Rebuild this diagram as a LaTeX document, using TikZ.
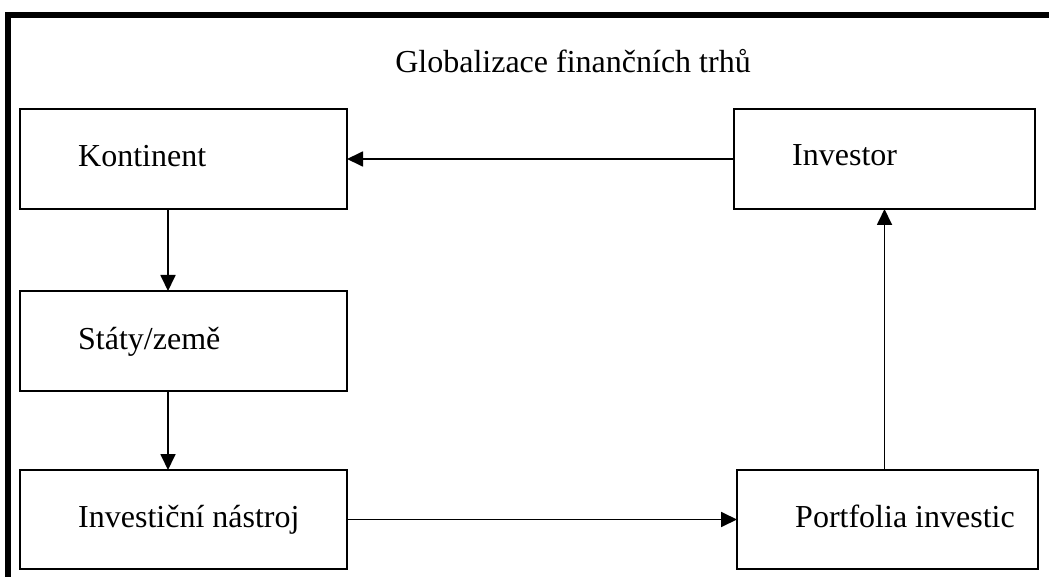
\documentclass[tikz,border=0pt]{standalone}
\usepackage{fontspec}
\setmainfont{Liberation Serif}
\usetikzlibrary{positioning,arrows.meta}

\begin{document}
\begin{tikzpicture}[
  x=1pt, y=-1pt,
  font=\fontsize{32}{38}\selectfont,
  >={Triangle[length=16pt,width=15pt]},
  node distance=80pt,
  box/.style={draw=black, line width=1.8pt, minimum width=#1,
              minimum height=100pt, inner sep=0pt, outer sep=0pt},
  box/.default=327pt,
  txt/.style={anchor=base west, inner sep=0pt},
  arr/.style={->, line width=1.8pt, black},
]
\useasboundingbox (0,0) rectangle (1049,577);

% --- frame (thick top and left edges) ---
\draw[line width=6pt, line join=miter] (8,577) -- (8,15) -- (1049,15);

% --- title ---
\node[anchor=base, inner sep=0pt] (title) at (573,73) {Globalizace finančních trhů};

% --- left column ---
\node[box, anchor=north west] (kont) at (20,109) {};
\node[box, below=82pt of kont] (staty) {};
\node[box, below=79pt of staty, minimum height=99pt] (nastroj) {};

% --- right column ---
\node[box=301pt, anchor=north west] (investor) at (734,109) {};
\node[box=301pt, anchor=north west, minimum height=99pt] (portf) at (737,470) {};

% --- texts ---
\node[txt] (kontT)     at ([shift={(58,8)}]kont.west)     {Kontinent};
\node[txt] (statyT)    at ([shift={(58,8)}]staty.west)    {Státy/země};
\node[txt] (nastrojT)  at ([shift={(58,8)}]nastroj.west)  {Investiční nástroj};
\node[txt] (investorT) at ([shift={(58,7)}]investor.west) {Investor};
\node[txt] (portfT)    at ([shift={(58,8)}]portf.west)    {Portfolia investic};

% --- arrows ---
\draw[arr] (investor.west) -- (kont.east);
\draw[arr] ([xshift=-15.5pt]kont.south) -- ([xshift=-15.5pt]staty.north);
\draw[arr] ([xshift=-15.5pt]staty.south) -- ([xshift=-15.5pt]nastroj.north);
\draw[arr] (nastroj.east) -- (portf.west);
\draw[arr] (investor.south |- portf.north) -- (investor.south);

\end{tikzpicture}
\end{document}
